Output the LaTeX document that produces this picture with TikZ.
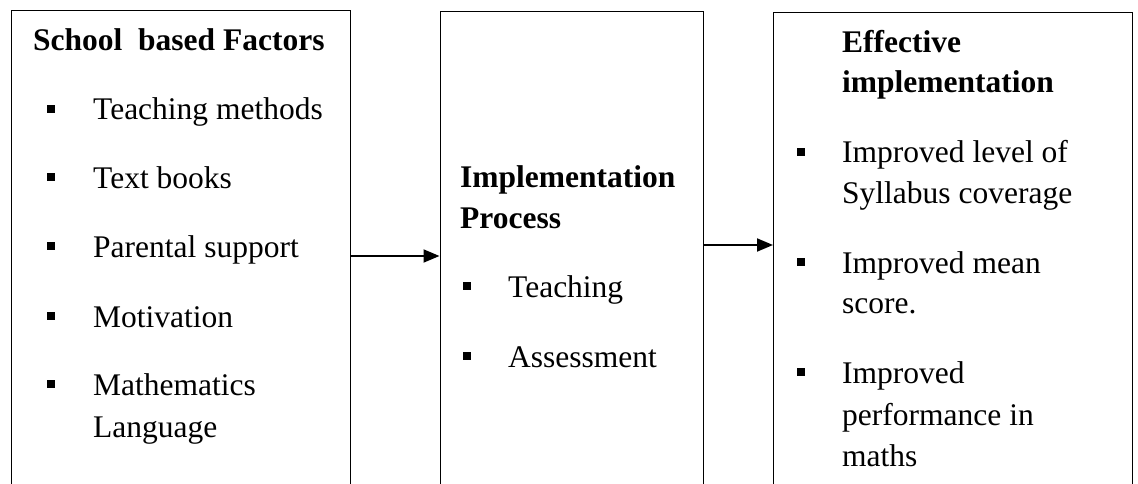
\documentclass[tikz,border=0pt]{standalone}
\usepackage{fontspec}
\setmainfont{Liberation Serif}
\usetikzlibrary{arrows.meta}
\begin{document}
\begin{tikzpicture}[x=1pt,y=-1pt,
  frame/.style={draw=black, line width=1.4pt, anchor=north west, inner sep=0pt, minimum height=520pt},
  txt/.style={anchor=base west, inner sep=0pt, font=\fontsize{31.5}{38}\selectfont},
  head/.style={anchor=base west, inner sep=0pt, font=\fontsize{31.5}{38}\selectfont\bfseries},
  sq/.style={fill=black, inner sep=0pt, minimum size=8pt},
  link/.style={line width=1.9pt, -{Triangle[length=16pt,width=13pt]}}]
\clip (0,0) rectangle (1138,484);
\fill[white] (0,0) rectangle (1138,484);

% the three frames (open at the bottom of the page)
\node[frame, minimum width=339pt] (lbox) at (11,10) {};
\node[frame, minimum width=263pt] (mbox) at (439.5,11) {};
\node[frame, minimum width=359pt] (rbox) at (773,12) {};

% connectors
\draw[link] (lbox.east |- 0,256) -- (mbox.west |- 0,256);
\draw[link] (mbox.east |- 0,245) -- (rbox.west |- 0,245);

% school based factors
\node[head] (lhead) at (33,51) {School\ \ based Factors};
\node[sq] (lb1) at (51,109) {};
\node[txt] (lt1) at (93,120) {Teaching methods};
\node[sq] (lb2) at (51,177) {};
\node[txt] (lt2) at (93,188) {Text books};
\node[sq] (lb3) at (51,246) {};
\node[txt] (lt3) at (93,257) {Parental support};
\node[sq] (lb4) at (51,316) {};
\node[txt] (lt4) at (93,327) {Motivation};
\node[sq] (lb5) at (51,384) {};
\node[txt] (lt5a) at (93,395) {Mathematics};
\node[txt] (lt5b) at (93,437) {Language};

% implementation process
\node[head] (mhead1) at (460,187) {Implementation};
\node[head] (mhead2) at (460,228) {Process};
\node[sq] (mb1) at (467,286) {};
\node[txt] (mt1) at (508,297) {Teaching};
\node[sq] (mb2) at (467,356) {};
\node[txt] (mt2) at (508,367) {Assessment};

% effective implementation
\node[head] (rhead1) at (842,53) {Effective};
\node[head] (rhead2) at (842,93) {implementation};
\node[sq] (rb1) at (801,152) {};
\node[txt] (rt1a) at (842,163) {Improved level of};
\node[txt] (rt1b) at (842,203) {Syllabus coverage};
\node[sq] (rb2) at (801,262) {};
\node[txt] (rt2a) at (842,273) {Improved mean};
\node[txt] (rt2b) at (842,313) {score.};
\node[sq] (rb3) at (801,372) {};
\node[txt] (rt3a) at (842,383) {Improved};
\node[txt] (rt3b) at (842,425) {performance in};
\node[txt] (rt3c) at (842,466) {maths};
\end{tikzpicture}
\end{document}
